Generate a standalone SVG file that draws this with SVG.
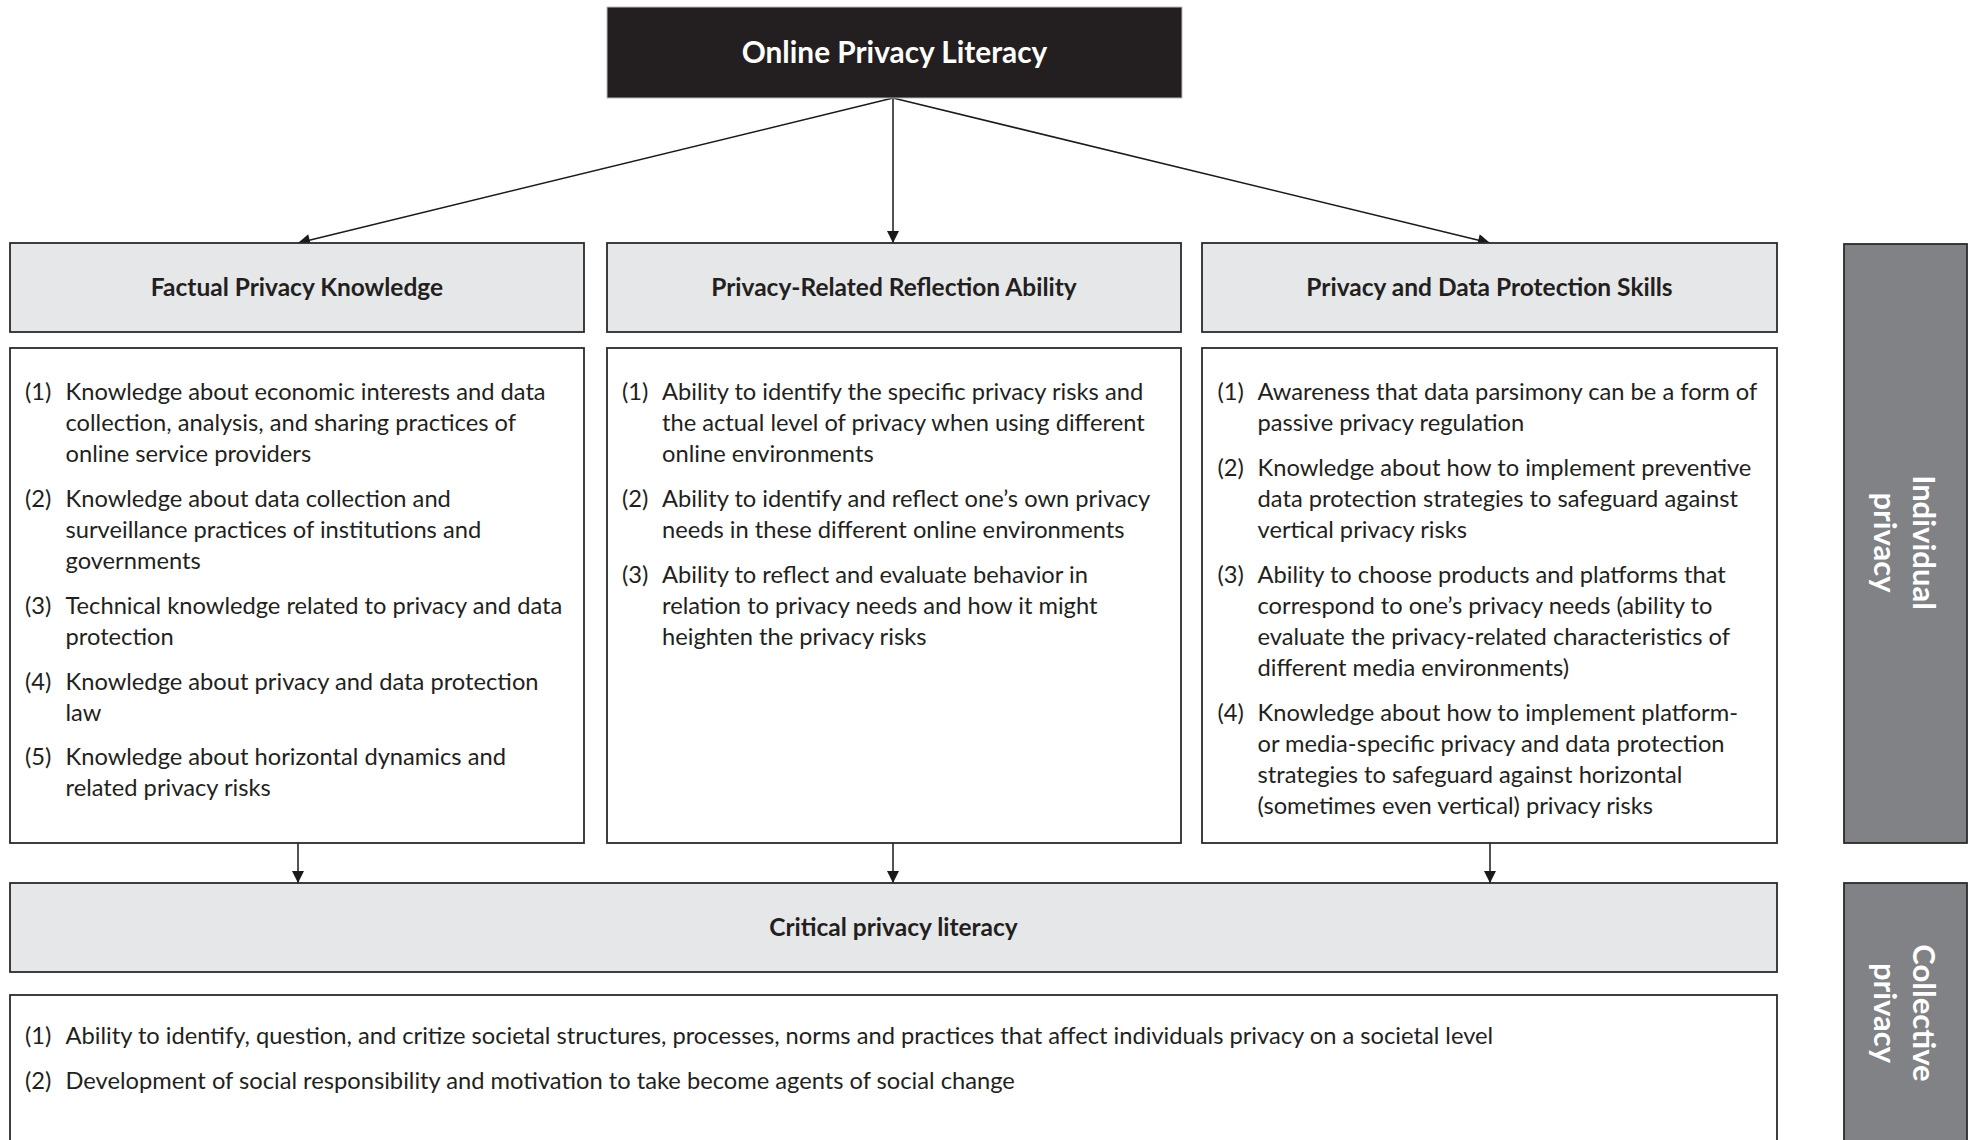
<svg xmlns="http://www.w3.org/2000/svg" width="1970" height="1140" viewBox="0 0 1970 1140">
<style>
.box{fill:#ffffff;stroke:#2b2b2b;stroke-width:1.8}
.hdr{fill:#e6e7e8;stroke:#2b2b2b;stroke-width:1.8}
.side{fill:#808285;stroke:#2b2b2b;stroke-width:1.8}
.top{fill:#231f20;stroke:#bbbbbb;stroke-width:1}
.t{font-family:Lato,"Open Sans",sans-serif;font-size:23.7px;fill:#231f20}
.h{font-family:Lato,"Open Sans",sans-serif;font-size:24.5px;font-weight:bold;fill:#231f20;text-anchor:middle}
.w{font-family:Lato,"Open Sans",sans-serif;font-size:29.8px;font-weight:bold;fill:#ffffff;text-anchor:middle}
.s{font-family:Lato,"Open Sans",sans-serif;font-size:31px;font-weight:bold;fill:#ffffff;text-anchor:middle}
.c{stroke:#1a1a1a;stroke-width:1.5;fill:none;marker-end:url(#ah)}
</style>
<defs>
<marker id="ah" viewBox="0 0 10 10" refX="10" refY="5" markerWidth="13" markerHeight="12" markerUnits="userSpaceOnUse" orient="auto">
<path d="M0,0 L10,5 L0,10 z" fill="#1a1a1a"/>
</marker>
</defs>
<rect width="1970" height="1140" fill="#ffffff"/>

<g id="connectors">
<line class="c" x1="893" y1="98" x2="298" y2="243"/>
<line class="c" x1="893" y1="98" x2="893" y2="243"/>
<line class="c" x1="893" y1="98" x2="1490" y2="243"/>
<line class="c" x1="298" y1="843" x2="298" y2="883"/>
<line class="c" x1="893" y1="843" x2="893" y2="883"/>
<line class="c" x1="1490" y1="843" x2="1490" y2="883"/>
</g>

<g id="online-privacy-literacy">
<rect class="top" x="607" y="7" width="575" height="91"/>
<text class="w" x="894.5" y="63">Online Privacy Literacy</text>
</g>

<g id="factual-privacy-knowledge">
<rect class="hdr" x="10" y="243" width="574" height="89"/>
<text class="h" x="297" y="296">Factual Privacy Knowledge</text>
</g>
<g id="reflection-ability">
<rect class="hdr" x="607" y="243" width="574" height="89"/>
<text class="h" x="894" y="296">Privacy-Related Reflection Ability</text>
</g>
<g id="protection-skills">
<rect class="hdr" x="1202" y="243" width="575" height="89"/>
<text class="h" x="1489.5" y="296">Privacy and Data Protection Skills</text>
</g>

<g id="factual-items">
<rect class="box" x="10" y="348" width="574" height="495"/>
<text class="t">
<tspan x="25" y="400">(1)</tspan><tspan x="65.5" y="400">Knowledge about economic interests and data</tspan>
<tspan x="65.5" y="431">collection, analysis, and sharing practices of</tspan>
<tspan x="65.5" y="462">online service providers</tspan>
<tspan x="25" y="507">(2)</tspan><tspan x="65.5" y="507">Knowledge about data collection and</tspan>
<tspan x="65.5" y="538">surveillance practices of institutions and</tspan>
<tspan x="65.5" y="569">governments</tspan>
<tspan x="25" y="614">(3)</tspan><tspan x="65.5" y="614">Technical knowledge related to privacy and data</tspan>
<tspan x="65.5" y="645">protection</tspan>
<tspan x="25" y="689.5">(4)</tspan><tspan x="65.5" y="689.5">Knowledge about privacy and data protection</tspan>
<tspan x="65.5" y="720.5">law</tspan>
<tspan x="25" y="765">(5)</tspan><tspan x="65.5" y="765">Knowledge about horizontal dynamics and</tspan>
<tspan x="65.5" y="796">related privacy risks</tspan>
</text>
</g>

<g id="reflection-items">
<rect class="box" x="607" y="348" width="574" height="495"/>
<text class="t">
<tspan x="622" y="400">(1)</tspan><tspan x="662" y="400">Ability to identify the specific privacy risks and</tspan>
<tspan x="662" y="431">the actual level of privacy when using different</tspan>
<tspan x="662" y="462">online environments</tspan>
<tspan x="622" y="507">(2)</tspan><tspan x="662" y="507">Ability to identify and reflect one’s own privacy</tspan>
<tspan x="662" y="538">needs in these different online environments</tspan>
<tspan x="622" y="583">(3)</tspan><tspan x="662" y="583">Ability to reflect and evaluate behavior in</tspan>
<tspan x="662" y="614">relation to privacy needs and how it might</tspan>
<tspan x="662" y="645">heighten the privacy risks</tspan>
</text>
</g>

<g id="skills-items">
<rect class="box" x="1202" y="348" width="575" height="495"/>
<text class="t">
<tspan x="1217.5" y="400">(1)</tspan><tspan x="1257.5" y="400">Awareness that data parsimony can be a form of</tspan>
<tspan x="1257.5" y="431">passive privacy regulation</tspan>
<tspan x="1217.5" y="476">(2)</tspan><tspan x="1257.5" y="476">Knowledge about how to implement preventive</tspan>
<tspan x="1257.5" y="507">data protection strategies to safeguard against</tspan>
<tspan x="1257.5" y="538">vertical privacy risks</tspan>
<tspan x="1217.5" y="583">(3)</tspan><tspan x="1257.5" y="583">Ability to choose products and platforms that</tspan>
<tspan x="1257.5" y="614">correspond to one’s privacy needs (ability to</tspan>
<tspan x="1257.5" y="645">evaluate the privacy-related characteristics of</tspan>
<tspan x="1257.5" y="676">different media environments)</tspan>
<tspan x="1217.5" y="720.5">(4)</tspan><tspan x="1257.5" y="720.5">Knowledge about how to implement platform-</tspan>
<tspan x="1257.5" y="751.5">or media-specific privacy and data protection</tspan>
<tspan x="1257.5" y="782.5">strategies to safeguard against horizontal</tspan>
<tspan x="1257.5" y="813.5">(sometimes even vertical) privacy risks</tspan>
</text>
</g>

<g id="critical-privacy-literacy">
<rect class="hdr" x="10" y="883" width="1767" height="89"/>
<text class="h" x="893.5" y="936">Critical privacy literacy</text>
</g>

<g id="critical-items">
<rect class="box" x="10" y="995" width="1767" height="160"/>
<text class="t">
<tspan x="25" y="1044">(1)</tspan><tspan x="65.5" y="1044">Ability to identify, question, and critize societal structures, processes, norms and practices that affect individuals privacy on a societal level</tspan>
<tspan x="25" y="1089">(2)</tspan><tspan x="65.5" y="1089">Development of social responsibility and motivation to take become agents of social change</tspan>
</text>
</g>

<g id="individual-privacy">
<rect class="side" x="1844" y="244" width="123" height="599"/>
<g transform="translate(1905,542.5) rotate(90)">
<text class="s" x="0" y="-8">Individual</text>
<text class="s" x="0" y="31">privacy</text>
</g>
</g>

<g id="collective-privacy">
<rect class="side" x="1844" y="883" width="123" height="270"/>
<g transform="translate(1905,1013) rotate(90)">
<text class="s" x="0" y="-8">Collective</text>
<text class="s" x="0" y="31">privacy</text>
</g>
</g>
</svg>
